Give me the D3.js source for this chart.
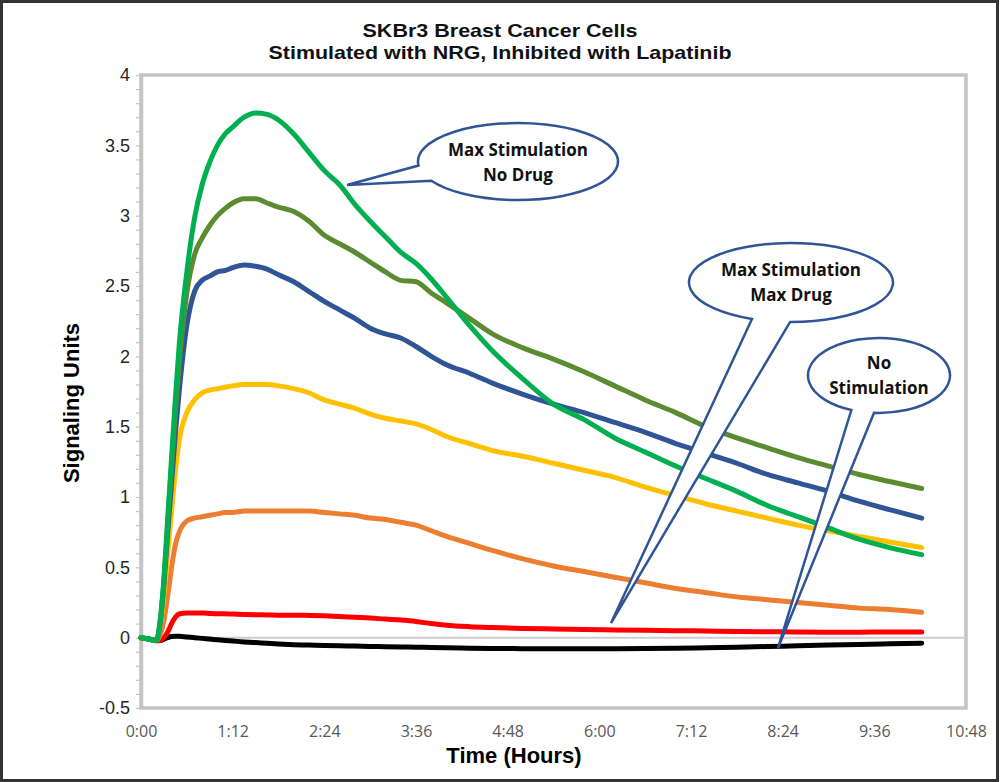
<!DOCTYPE html>
<html>
<head>
<meta charset="utf-8">
<script src="https://cdn.jsdelivr.net/npm/d3@7"></script>
<style>
  html, body { margin: 0; padding: 0; background: #fff; }
  svg { display: block; }
</style>
</head>
<body>
<svg id="chart" width="1000" height="782"></svg>
<script>
// ---------------- DATA ----------------
const titleLines = ["SKBr3 Breast Cancer Cells", "Stimulated with NRG, Inhibited with Lapatinib"];
const xTitle = "Time (Hours)";
const yTitle = "Signaling Units";

const xTickValues = [0, 1.2, 2.4, 3.6, 4.8, 6.0, 7.2, 8.4, 9.6, 10.8];
const xTickLabels = ["0:00", "1:12", "2:24", "3:36", "4:48", "6:00", "7:12", "8:24", "9:36", "10:48"];
const yTickValues = [-0.5, 0, 0.5, 1, 1.5, 2, 2.5, 3, 3.5, 4];

// time in hours
const times = [0, 0.1, 0.2, 0.25, 0.3, 0.35, 0.4, 0.45, 0.5, 0.6, 0.7, 0.8, 0.9, 1.0, 1.1, 1.2, 1.35, 1.5, 1.65, 1.8,
  2.0, 2.2, 2.4, 2.6, 2.8, 3.0, 3.2, 3.4, 3.6, 3.8, 4.0, 4.3, 4.6, 5.0, 5.4, 5.8, 6.2, 6.6, 7.0, 7.4, 7.8, 8.2, 8.6,
  9.0, 9.4, 9.8, 10.22];

const blackVals = [0, -0.01, -0.022, -0.02, -0.01, 0.0, 0.008, 0.01, 0.01, 0.005, 0.0, -0.005, -0.01, -0.015, -0.02, -0.024, -0.03, -0.035, -0.04, -0.045,
  -0.05, -0.053, -0.056, -0.058, -0.06, -0.062, -0.064, -0.066, -0.068, -0.07, -0.072, -0.075, -0.077, -0.078, -0.079, -0.079, -0.078, -0.077, -0.075, -0.072, -0.068, -0.063, -0.058,
  -0.053, -0.048, -0.044, -0.04];
const redVals = [0, -0.01, -0.02, -0.02, 0.0, 0.04, 0.1, 0.145, 0.168, 0.175, 0.175, 0.175, 0.172, 0.17, 0.17, 0.168, 0.165, 0.163, 0.162, 0.16,
  0.16, 0.158, 0.155, 0.15, 0.145, 0.14, 0.132, 0.125, 0.115, 0.1, 0.088, 0.078, 0.072, 0.066, 0.062, 0.058, 0.055, 0.052, 0.05, 0.047, 0.044, 0.042, 0.04,
  0.039, 0.039, 0.04, 0.04];
const orangeVals = [0, -0.01, -0.02, 0.02, 0.12, 0.3, 0.5, 0.66, 0.75, 0.83, 0.85, 0.86, 0.87, 0.88, 0.89, 0.89, 0.9, 0.9, 0.9, 0.9,
  0.9, 0.9, 0.89, 0.88, 0.87, 0.85, 0.84, 0.82, 0.8, 0.76, 0.72, 0.67, 0.62, 0.56, 0.51, 0.47, 0.43, 0.39, 0.35, 0.32, 0.29, 0.27, 0.25,
  0.23, 0.21, 0.2, 0.18];
const yellowVals = [0, -0.01, -0.02, 0.08, 0.3, 0.6, 0.9, 1.18, 1.4, 1.6, 1.69, 1.74, 1.76, 1.77, 1.78, 1.79, 1.8, 1.8, 1.8, 1.79,
  1.77, 1.74, 1.69, 1.66, 1.63, 1.59, 1.56, 1.54, 1.52, 1.48, 1.43, 1.38, 1.33, 1.29, 1.24, 1.19, 1.14, 1.07, 1.01, 0.95, 0.9, 0.85, 0.8,
  0.76, 0.72, 0.68, 0.64];
const blueVals = [0, -0.01, -0.02, 0.1, 0.38, 0.75, 1.1, 1.45, 1.75, 2.22, 2.46, 2.54, 2.57, 2.6, 2.61, 2.63, 2.65, 2.64, 2.62, 2.58,
  2.53, 2.46, 2.39, 2.33, 2.27, 2.2, 2.16, 2.13, 2.07, 2.0, 1.94, 1.88, 1.81, 1.73, 1.66, 1.6, 1.53, 1.46, 1.38, 1.31, 1.24, 1.16, 1.1,
  1.04, 0.97, 0.91, 0.85];
const oliveVals = [0, -0.01, -0.02, 0.1, 0.4, 0.82, 1.22, 1.6, 1.95, 2.45, 2.72, 2.84, 2.93, 3.0, 3.05, 3.09, 3.12, 3.12, 3.09, 3.06,
  3.03, 2.96, 2.86, 2.8, 2.74, 2.67, 2.6, 2.54, 2.53, 2.45, 2.38, 2.27, 2.16, 2.06, 1.98, 1.89, 1.79, 1.69, 1.6, 1.5, 1.42, 1.35, 1.28,
  1.22, 1.16, 1.11, 1.06];
const greenVals = [0, -0.01, -0.02, 0.12, 0.42, 0.85, 1.28, 1.7, 2.08, 2.6, 2.98, 3.22, 3.38, 3.5, 3.58, 3.63, 3.7, 3.73, 3.72, 3.68,
  3.58, 3.45, 3.32, 3.22, 3.08, 2.96, 2.85, 2.74, 2.66, 2.55, 2.42, 2.22, 2.04, 1.84, 1.66, 1.55, 1.42, 1.32, 1.22, 1.13, 1.04, 0.94, 0.86,
  0.78, 0.7, 0.64, 0.59];

const seriesValues = [blackVals, redVals, orangeVals, yellowVals, blueVals, oliveVals, greenVals];
const seriesColors = ["#000000", "#ff0000", "#ed7d31", "#ffc000", "#2f5597", "#5b8c32", "#00b050"];

// callouts: lines of text, ellipse centre (hours, units), tip (hours, units)
const calloutTexts = [["Max Stimulation", "No Drug"], ["Max Stimulation", "Max Drug"], ["No", "Stimulation"]];
const calloutCenters = [[4.935, 3.385], [8.509, 2.525], [9.661, 1.864]];
const calloutTips = [[2.697, 3.218], [6.153, 0.104], [8.339, -0.073]];

// ---------------- DRAW ----------------
const svg = d3.select("#chart");
const W = 1000, H = 782;
const m = { left: 141, top: 75, right: 966, bottom: 708 };

svg.append("rect").attr("x", 0).attr("y", 0).attr("width", W).attr("height", H).attr("fill", "#fff");

const x = d3.scaleLinear().domain([0, 10.8]).range([m.left, m.right]);
const y = d3.scaleLinear().domain([-0.5, 4]).range([m.bottom, m.top]);

// Title
const titleFont = "'Liberation Sans Narrow', 'Arial Narrow', 'Liberation Sans', Arial, sans-serif";
svg.append("text").attr("x", 500).attr("y", 37).attr("text-anchor", "middle")
  .attr("font-family", titleFont).attr("font-weight", "bold").attr("font-size", 19)
  .attr("textLength", 275).attr("lengthAdjust", "spacingAndGlyphs").attr("fill", "#111")
  .text(titleLines[0]);
svg.append("text").attr("x", 500).attr("y", 59).attr("text-anchor", "middle")
  .attr("font-family", titleFont).attr("font-weight", "bold").attr("font-size", 19)
  .attr("textLength", 463).attr("lengthAdjust", "spacingAndGlyphs").attr("fill", "#111")
  .text(titleLines[1]);

// Plot area border
svg.append("rect").attr("x", m.left).attr("y", m.top)
  .attr("width", m.right - m.left).attr("height", m.bottom - m.top)
  .attr("fill", "none").attr("stroke", "#c4c4c4").attr("stroke-width", 3.5);

// Zero line (x axis)
svg.append("line").attr("x1", m.left).attr("x2", m.right).attr("y1", y(0)).attr("y2", y(0))
  .attr("stroke", "#cdcdcd").attr("stroke-width", 2);

// Y axis minor ticks
const minor = d3.range(-0.5, 4.0001, 0.1).map(v => Math.round(v * 10) / 10);
const yMinor = svg.append("g").attr("transform", `translate(${m.left},0)`)
  .call(d3.axisLeft(y).tickValues(minor).tickSize(5).tickFormat(""));
yMinor.select(".domain").remove();
yMinor.selectAll(".tick line").attr("stroke", "#c4c4c4").attr("stroke-width", 1.2);

// Y axis (major labels)
const yAxis = svg.append("g").attr("transform", `translate(${m.left},0)`)
  .call(d3.axisLeft(y).tickValues(yTickValues).tickSize(0).tickPadding(11).tickFormat(d => String(d)));
yAxis.select(".domain").attr("stroke", "#c4c4c4").attr("stroke-width", 3.5);
yAxis.selectAll(".tick text").attr("font-family", "'Liberation Sans', Arial, sans-serif")
  .attr("font-size", 18).attr("fill", "#262626");

// X axis labels
const xAxis = svg.append("g").attr("transform", `translate(0,${m.bottom})`)
  .call(d3.axisBottom(x).tickValues(xTickValues).tickSize(0).tickPadding(18)
    .tickFormat((d, i) => xTickLabels[i]));
xAxis.select(".domain").remove();
xAxis.selectAll(".tick text").attr("font-family", "'Open Sans', sans-serif")
  .attr("font-size", 16).attr("fill", "#595959");

// Axis titles
svg.append("text").attr("x", 514).attr("y", 763).attr("text-anchor", "middle")
  .attr("font-family", "'Liberation Sans', Arial, sans-serif").attr("font-weight", "bold")
  .attr("font-size", 22).attr("fill", "#000").text(xTitle);
svg.append("text").attr("transform", "translate(79,403) rotate(-90)").attr("text-anchor", "middle")
  .attr("font-family", "'Liberation Sans', Arial, sans-serif").attr("font-weight", "bold")
  .attr("font-size", 22).attr("fill", "#000").text(yTitle);

// Series lines
const line = d3.line().x(d => x(d[0])).y(d => y(d[1])).curve(d3.curveMonotoneX);
seriesValues.forEach((vals, i) => {
  svg.append("path")
    .datum(times.map((t, j) => [t, vals[j]]))
    .attr("d", line)
    .attr("fill", "none")
    .attr("stroke", seriesColors[i])
    .attr("stroke-width", 5)
    .attr("stroke-linejoin", "round")
    .attr("stroke-linecap", "round");
});

// Callouts
const calloutSizes = [[100, 38.5], [102, 39.5], [71, 37.5]];
const calloutWedge = [[174, 150], [112.5, 90.5], [112.9, 94]];
function calloutPath(cx, cy, rx, ry, a1, a2, tip) {
  const p = a => [cx + rx * Math.cos(a * Math.PI / 180), cy + ry * Math.sin(a * Math.PI / 180)];
  const A = p(a1), B = p(a2);
  return `M${A[0]},${A[1]} A${rx},${ry} 0 1 1 ${B[0]},${B[1]} L${tip[0]},${tip[1]} Z`;
}
calloutTexts.forEach((lines, i) => {
  const cx = x(calloutCenters[i][0]), cy = y(calloutCenters[i][1]);
  const tip = [x(calloutTips[i][0]), y(calloutTips[i][1])];
  const [rx, ry] = calloutSizes[i];
  const [a1, a2] = calloutWedge[i];
  svg.append("path").attr("d", calloutPath(cx, cy, rx, ry, a1, a2, tip))
    .attr("fill", "#fff").attr("stroke", "#2f5597").attr("stroke-width", 2.5)
    .attr("stroke-linejoin", "miter");
  const offsets = [-12, 13];
  lines.forEach((t, k) => {
    svg.append("text").attr("x", cx).attr("y", cy + offsets[k] + 6)
      .attr("text-anchor", "middle").attr("font-family", "'Open Sans', sans-serif")
      .attr("font-weight", "bold").attr("font-size", 17).attr("fill", "#111")
      .text(t);
  });
});

// Outer frame
svg.append("rect").attr("x", 1.5).attr("y", 1.5).attr("width", 996).attr("height", 779)
  .attr("fill", "none").attr("stroke", "#333").attr("stroke-width", 3);
</script>
</body>
</html>
